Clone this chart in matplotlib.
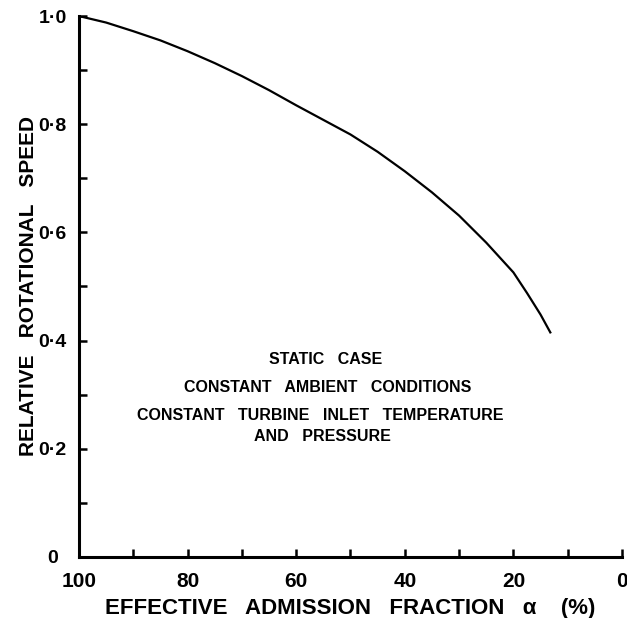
import numpy as np
import matplotlib.pyplot as plt
from matplotlib.ticker import MultipleLocator

plt.rcParams['font.family'] = ['Liberation Sans', 'DejaVu Sans']

# effective admission fraction (%) and relative rotational speed
alpha = [100, 95, 90, 85, 80, 75, 70, 65, 60, 55, 50, 45, 40, 35, 30, 25, 20, 17.5, 15, 13.2]
speed = [1.0, 0.988, 0.972, 0.955, 0.935, 0.913, 0.889, 0.863, 0.835, 0.808, 0.781,
         0.749, 0.713, 0.674, 0.631, 0.581, 0.526, 0.488, 0.448, 0.415]

xticks = [100, 80, 60, 40, 20, 0]
yticks = [0, 0.2, 0.4, 0.6, 0.8, 1.0]
ylabels = ['0', '0·2', '0·4', '0·6', '0·8', '1·0']

notes = ['STATIC   CASE',
         'CONSTANT   AMBIENT   CONDITIONS',
         'CONSTANT   TURBINE   INLET   TEMPERATURE',
         'AND   PRESSURE']
note_x = [54.6, 54.2, 55.5, 55.1]
note_y = [0.365, 0.313, 0.261, 0.222]

fig = plt.figure(figsize=(6.27, 6.18), dpi=100)
ax = fig.add_axes([0.126, 0.099, 0.866, 0.875])

ax.plot(alpha, speed, color='black', linewidth=1.6)

ax.set_xlim(100, 0)
ax.set_ylim(0, 1.0)
for s in ['top', 'right']:
    ax.spines[s].set_visible(False)
for s in ['left', 'bottom']:
    ax.spines[s].set_linewidth(2.2)

ax.set_xticks(xticks)
ax.set_xticklabels([str(v) for v in xticks])
ax.xaxis.set_minor_locator(MultipleLocator(10))
ax.set_yticks(yticks)
ax.set_yticklabels(ylabels)
ax.yaxis.set_minor_locator(MultipleLocator(0.1))
ax.tick_params(which='both', direction='in', length=6, width=1.8)
ax.tick_params(axis='x', which='major', labelsize=15, pad=11)
ax.tick_params(axis='y', which='major', labelsize=14, pad=19)
for lab in ax.get_xticklabels():
    lab.set_fontweight('bold')
for lab in ax.get_yticklabels():
    lab.set_fontweight('bold')
    lab.set_horizontalalignment('center')

ax.set_xlabel('EFFECTIVE   ADMISSION   FRACTION   α    (%)',
              fontsize=16, fontweight='bold', labelpad=5)
ax.set_ylabel('RELATIVE   ROTATIONAL   SPEED',
              fontsize=15, fontweight='bold', labelpad=0)

for t, x, y in zip(notes, note_x, note_y):
    ax.text(x, y, t, ha='center', va='center', fontsize=11.5, fontweight='bold')

fig.savefig('out.png', dpi=100)
